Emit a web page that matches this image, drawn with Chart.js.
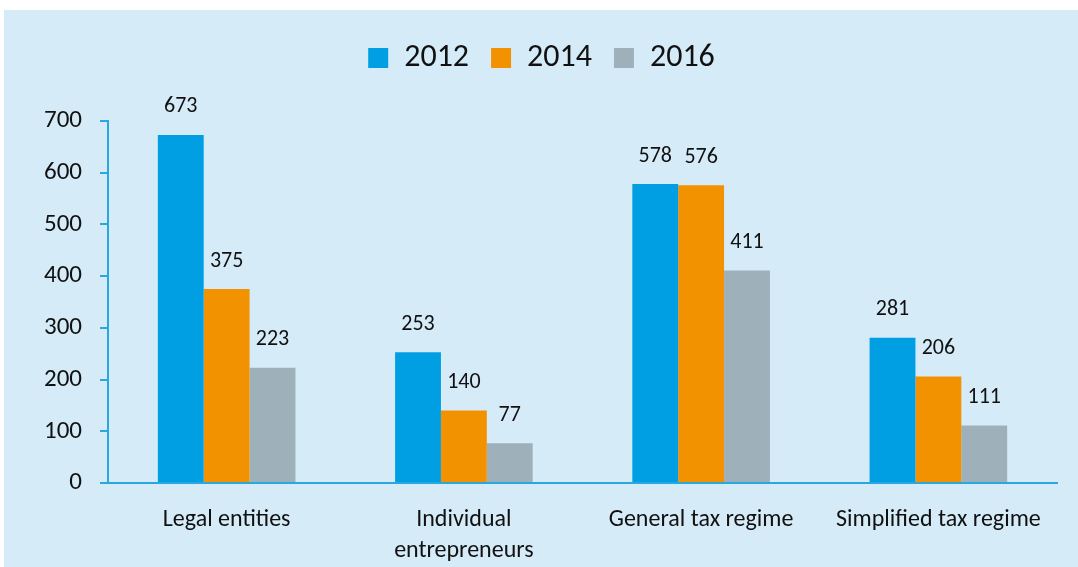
<!DOCTYPE html>
<html>
<head>
<meta charset="utf-8">
<script src="https://cdn.jsdelivr.net/npm/chart.js@4"></script>
<style>
  html, body { margin: 0; padding: 0; background: #fff; }
  #wrap { width: 1078px; height: 567px; }
</style>
</head>
<body>
<div id="wrap"><canvas id="taxChart" width="1078" height="567"></canvas></div>
<script>
// chart data
const categories = ["Legal entities", ["Individual", "entrepreneurs"], "General tax regime", "Simplified tax regime"];
const years = ["2012", "2014", "2016"];
const values2012 = [673, 253, 578, 281];
const values2014 = [375, 140, 576, 206];
const values2016 = [223, 77, 411, 111];
const yTicks = [0, 100, 200, 300, 400, 500, 600, 700];

const colors = ['#009FE3', '#F39200', '#9EB0BA'];
const axisColor = '#29A8E0';
const fontFamily = "Carlito, Lato, 'Liberation Sans', sans-serif";

// light blue panel behind the chart
const panelBg = {
  id: 'panelBg',
  beforeDraw(chart) {
    const c = chart.ctx;
    c.save();
    c.fillStyle = '#D6EBF8';
    c.fillRect(4, 10, chart.width - 4, chart.height - 10);
    c.restore();
  }
};

// extra room under the legend
const legendGap = {
  id: 'legendGap',
  beforeInit(chart) {
    const fit = chart.legend.fit;
    chart.legend.fit = function () {
      fit.bind(chart.legend)();
      this.height += 37;
    };
  }
};

// value labels over the bars
const barValues = {
  id: 'barValues',
  afterDatasetsDraw(chart) {
    const c = chart.ctx;
    c.save();
    c.font = '22px ' + fontFamily;
    c.fillStyle = '#111';
    c.textAlign = 'center';
    c.textBaseline = 'bottom';
    chart.data.datasets.forEach((ds, i) => {
      chart.getDatasetMeta(i).data.forEach((bar, j) => {
        c.fillText(ds.data[j], bar.x, bar.y - 17);
      });
    });
    c.restore();
  }
};

new Chart(document.getElementById('taxChart').getContext('2d'), {
  type: 'bar',
  data: {
    labels: categories,
    datasets: [
      { label: years[0], data: values2012, backgroundColor: colors[0] },
      { label: years[1], data: values2014, backgroundColor: colors[1] },
      { label: years[2], data: values2016, backgroundColor: colors[2] }
    ]
  },
  options: {
    responsive: false,
    animation: false,
    layout: { padding: { top: 20, left: 26, right: 21, bottom: 0 } },
    datasets: { bar: { categoryPercentage: 0.58, barPercentage: 1.0 } },
    plugins: {
      legend: {
        position: 'top',
        labels: {
          boxWidth: 20, boxHeight: 20, padding: 22,
          color: '#111',
          font: { family: fontFamily, size: 32 }
        }
      },
      tooltip: { enabled: false }
    },
    scales: {
      x: {
        afterFit(scale) { scale.height = 84; },
        grid: { display: false },
        border: { display: true, color: axisColor, width: 2 },
        ticks: { color: '#111', padding: 13, maxRotation: 0, font: { family: fontFamily, size: 24, lineHeight: 1.3 } }
      },
      y: {
        min: 0, max: 700,
        afterBuildTicks(axis) { axis.ticks = yTicks.map(v => ({ value: v })); },
        grid: { display: true, drawOnChartArea: false, drawTicks: true, tickLength: 8, color: axisColor, lineWidth: 2 },
        border: { display: true, color: axisColor, width: 2 },
        ticks: { color: '#111', padding: 18, font: { family: fontFamily, size: 25 } }
      }
    }
  },
  plugins: [panelBg, legendGap, barValues]
});
</script>
</body>
</html>
